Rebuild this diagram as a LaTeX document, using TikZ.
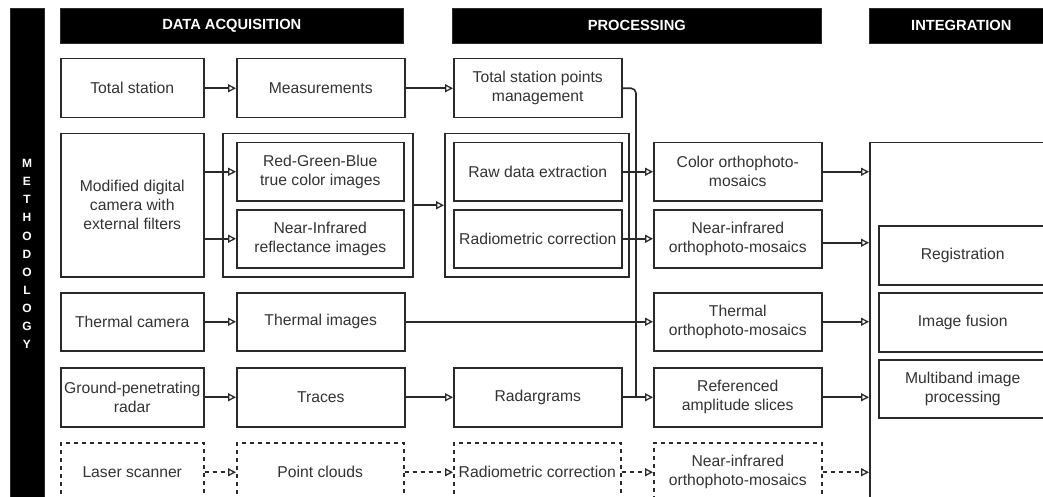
\documentclass[tikz,border=0pt]{standalone}
\usepackage{fontspec}
\setmainfont{Liberation Sans}
\usetikzlibrary{arrows.meta,calc}
\definecolor{ink}{HTML}{2A2A2A}
\definecolor{txt}{HTML}{333333}
\begin{document}
\begin{tikzpicture}[x=1pt,y=-1pt,
  box/.style={draw=ink, line width=1.5pt, fill=white, rectangle, anchor=north west,
    inner sep=0pt, align=center, text=txt, font=\fontsize{15.7}{19}\selectfont},
  sz/.style 2 args={minimum width=#1pt, minimum height=#2pt},
  dbox/.style={box, dash pattern=on 4pt off 4pt},
  hdr/.style={fill=black, draw=ink, line width=0.6pt, rectangle, anchor=north west,
    inner sep=0pt, text=white, font=\bfseries\fontsize{14.7}{17}\selectfont},
  conn/.style={draw=ink, line width=1.6pt},
  arr/.style={conn, -{Triangle[open, length=8pt, width=8pt, line width=1.3pt, fill=white]}},
  darr/.style={arr, dash pattern=on 4pt off 4pt},
]
\useasboundingbox (0,0) rectangle (1043,497);
\clip (0,0) rectangle (1043,497);
\fill[white] (0,0) rectangle (1043,497);

% side bar and headers
\node[hdr, sz={34}{495}] (bar) at (10,8) {};
\node[text=white, font=\bfseries\fontsize{12}{18.1}\selectfont, align=center, inner sep=0pt] (meth) at (27,254) {M\\E\\T\\H\\O\\D\\O\\L\\O\\G\\Y};
\node[hdr, sz={343}{35}] (h1) at (60,8) {DATA ACQUISITION};
\node[hdr, sz={369}{35}] (h2) at (452,8) {PROCESSING};
\node[hdr, sz={184}{35}] (h3) at (869,8) {INTEGRATION};

% row 1
\node[box, sz={143}{59}] (ts) at (60,58) {Total station};
\node[box, sz={168}{59}] (meas) at (236,58) {Measurements};
\node[box, sz={168}{59}] (tspm) at (453,58) {Total station points\\management};

% row 2
\node[box, sz={143}{143}] (cam) at (60,133) {Modified digital\\camera with\\external filters};
\node[box, sz={190}{143}] (g1) at (222,133) {};
\node[box, sz={167}{58}] (rgb) at (236,142) {Red-Green-Blue\\true color images};
\node[box, sz={167}{58}] (nir) at (236,209) {Near-Infrared\\reflectance images};
\node[box, sz={184}{143}] (g2) at (444,133) {};
\node[box, sz={168}{58}] (raw) at (453,142) {Raw data extraction};
\node[box, sz={168}{58}] (rad) at (453,209) {Radiometric correction};
\node[box, sz={168}{58}] (cor) at (653,142) {Color orthophoto-\\mosaics};
\node[box, sz={168}{58}] (nor) at (653,209) {Near-infrared\\orthophoto-mosaics};

% row 3
\node[box, sz={143}{58}] (tc) at (60,292) {Thermal camera};
\node[box, sz={168}{58}] (ti) at (236,292) {Thermal images};
\node[box, sz={168}{58}] (tor) at (653,292) {Thermal\\orthophoto-mosaics};

% row 4
\node[box, sz={143}{59}] (gpr) at (60,367) {Ground-penetrating\\radar};
\node[box, sz={168}{59}] (tr) at (236,367) {Traces};
\node[box, sz={168}{59}] (rg) at (453,367) {Radargrams};
\node[box, sz={168}{59}] (ras) at (653,367) {Referenced\\amplitude slices};

% row 5 (dashed)
\node[dbox, sz={143}{59}] (ls) at (60,442) {Laser scanner};
\node[dbox, sz={167}{59}] (pc) at (236,442) {Point clouds};
\node[dbox, sz={167}{59}] (rc2) at (453,442) {Radiometric correction};
\node[dbox, sz={168}{59}] (no2) at (653,442) {Near-infrared\\orthophoto-mosaics};

% integration
\node[box, sz={186}{400}] (big) at (869,142) {};
\node[box, sz={168}{59}] (reg) at (878,225) {Registration};
\node[box, sz={168}{59}] (fus) at (878,292) {Image fusion};
\node[box, sz={168}{58}] (mb) at (878,359) {Multiband image\\processing};

\coordinate (vx) at (636,0);

% connectors
\draw[arr] (ts) -- (meas);
\draw[arr] (meas) -- (tspm);
\draw[arr] (cam.east |- rgb.west) -- (rgb.west);
\draw[arr] (cam.east |- nir.west) -- (nir.west);
\draw[arr] (g1.east) -- (g2.west);
\draw[conn, rounded corners=5pt] (tspm.east) -| (vx |- rg.east);
\draw[arr] (raw.east) -- (cor.west);
\draw[arr] (rad.east) -- (nor.west);
\draw[arr] (tc) -- (ti);
\draw[arr] (ti.east) -- (tor.west);
\draw[arr] (gpr) -- (tr);
\draw[arr] (tr) -- (rg);
\draw[arr] (rg) -- (ras);
\draw[darr] (ls) -- (pc);
\draw[darr] (pc) -- (rc2);
\draw[darr] (rc2) -- (no2);

\draw[arr] (cor.east) -- (cor.east -| big.west);
\draw[arr] ([yshift=-4pt]nor.east) -- ([yshift=-4pt]nor.east -| big.west);
\draw[arr] (tor.east) -- (tor.east -| big.west);
\draw[arr] (ras.east) -- (ras.east -| big.west);
\draw[darr] (no2.east) -- (no2.east -| big.west);
\end{tikzpicture}
\end{document}
